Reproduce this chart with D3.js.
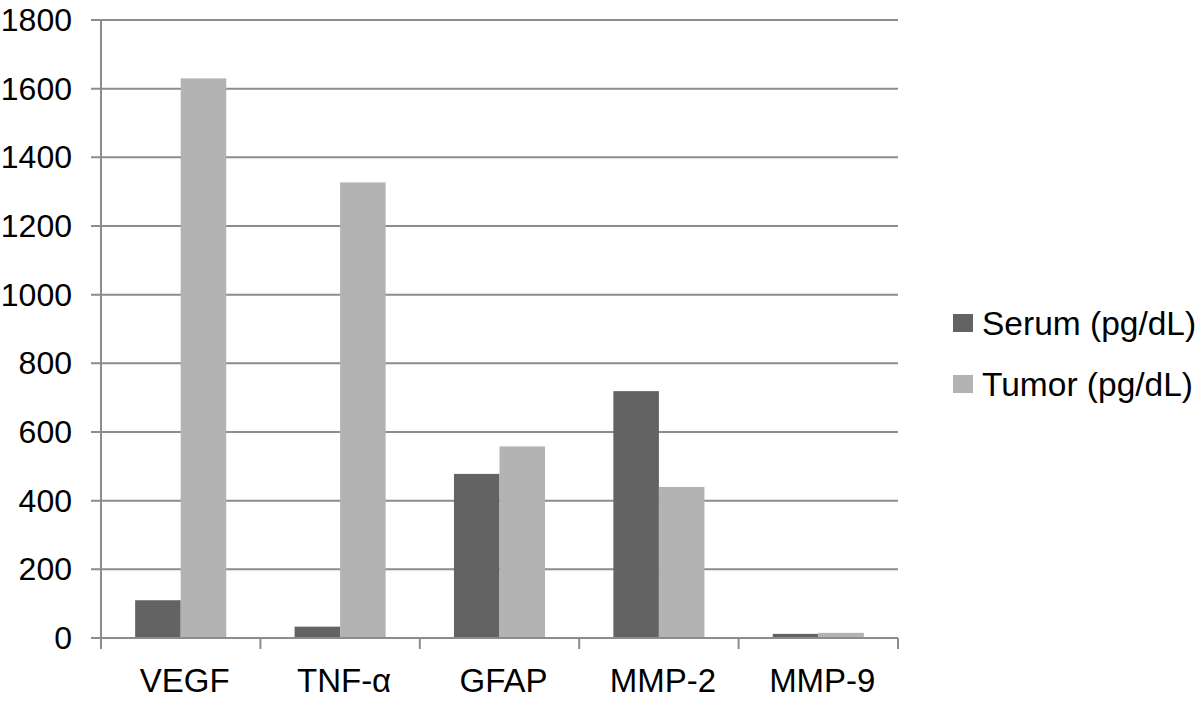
<!DOCTYPE html>
<html>
<head>
<meta charset="utf-8">
<script src="https://cdn.jsdelivr.net/npm/d3@7"></script>
<style>
  html, body { margin: 0; padding: 0; background: #fff; }
  svg { display: block; }
  text { font-family: "Liberation Sans", Arial, Helvetica, sans-serif; fill: #000; }
</style>
</head>
<body>
<svg id="chart" width="1200" height="701"></svg>
<script>
const categories = ["VEGF", "TNF-α", "GFAP", "MMP-2", "MMP-9"];
const seriesNames = ["Serum (pg/dL)", "Tumor (pg/dL)"];
const serumValues = [110, 33, 478, 719, 12];
const tumorValues = [1630, 1327, 558, 440, 15];
const yTicks = [0, 200, 400, 600, 800, 1000, 1200, 1400, 1600, 1800];
const colors = ["#636363", "#b3b3b3"];

(function () {
const svg = d3.select("#chart");
const mLeft = 101, mRight = 898, mTop = 20, mBottom = 638;
const gridColor = "#8c8c8c";

const x = d3.scaleBand().domain(categories).range([mLeft, mRight]).paddingInner(0).paddingOuter(0);
const xs = d3.scaleBand().domain(seriesNames).range([0, x.bandwidth()]).paddingInner(0).paddingOuter(0.75);
const y = d3.scaleLinear().domain([0, 1800]).range([mBottom, mTop]);

// gridlines + y tick labels
const gy = svg.append("g").attr("transform", `translate(${mLeft},0)`);
gy.selectAll("line.grid").data(yTicks).enter().append("line")
  .attr("x1", -10).attr("x2", mRight - mLeft)
  .attr("y1", d => y(d)).attr("y2", d => y(d))
  .attr("stroke", gridColor).attr("stroke-width", 2);
gy.selectAll("text.tick").data(yTicks).enter().append("text")
  .attr("x", -29).attr("y", d => y(d))
  .attr("text-anchor", "end").attr("dominant-baseline", "central")
  .style("font-size", "32px")
  .text(d => d3.format("d")(d));
gy.append("line").attr("x1", 0).attr("x2", 0).attr("y1", mTop).attr("y2", mBottom)
  .attr("stroke", gridColor).attr("stroke-width", 2);

// bars
const data = categories.map((c, i) => ({ cat: c, vals: [serumValues[i], tumorValues[i]] }));
const groups = svg.append("g").selectAll("g").data(data).enter().append("g")
  .attr("transform", d => `translate(${x(d.cat)},0)`);
groups.selectAll("rect").data(d => d.vals.map((v, j) => ({ s: seriesNames[j], v, j })))
  .enter().append("rect")
  .attr("x", d => xs(d.s))
  .attr("width", xs.bandwidth())
  .attr("y", d => y(d.v))
  .attr("height", d => y(0) - y(d.v))
  .attr("fill", d => colors[d.j]);

// x axis
const gx = svg.append("g").attr("transform", `translate(0,${mBottom})`);
gx.append("line").attr("x1", mLeft).attr("x2", mRight).attr("y1", 0).attr("y2", 0)
  .attr("stroke", gridColor).attr("stroke-width", 2);
const boundaries = categories.map(c => x(c)).concat([x(categories[categories.length - 1]) + x.bandwidth()]);
gx.selectAll("line.tk").data(boundaries).enter().append("line")
  .attr("x1", d => d).attr("x2", d => d).attr("y1", 0).attr("y2", 11)
  .attr("stroke", gridColor).attr("stroke-width", 2);
gx.selectAll("text.cat").data(categories).enter().append("text")
  .attr("x", d => x(d) + x.bandwidth() / 2 + 4)
  .attr("y", 54)
  .attr("text-anchor", "middle")
  .style("font-size", "33px")
  .text(d => d);

// legend
const legend = svg.append("g");
const legY = [323, 384];
seriesNames.forEach((s, i) => {
  legend.append("rect").attr("x", 953).attr("y", legY[i] - 9).attr("width", 20).attr("height", 18).attr("fill", colors[i]);
  legend.append("text").attr("x", 982).attr("y", legY[i]).attr("dominant-baseline", "central")
    .style("font-size", "33.5px").text(s);
});
})();
</script>
</body>
</html>
